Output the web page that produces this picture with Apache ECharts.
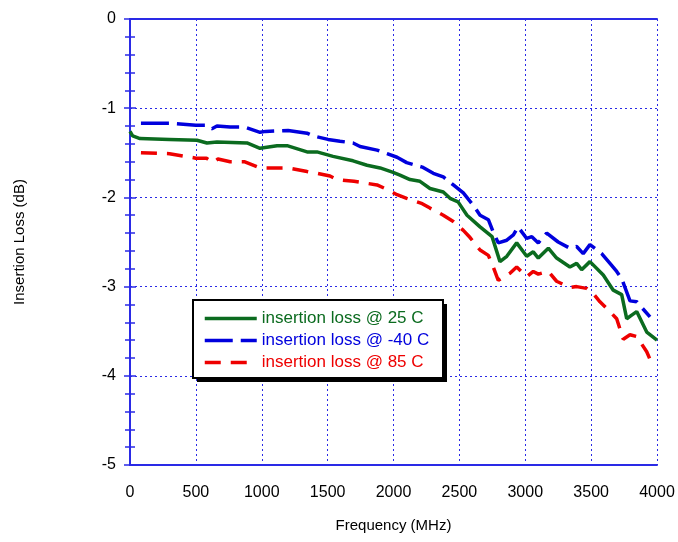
<!DOCTYPE html>
<html>
<head>
<meta charset="utf-8">
<script src="https://cdn.jsdelivr.net/npm/echarts@6/dist/echarts.min.js"></script>
<style>
    html, body { margin: 0; padding: 0; background: #ffffff; }
    #chart { width: 678px; height: 542px; }
</style>
</head>
<body>
<div id="chart"></div>
<script>
// insertion loss @ 25 C
const freq25 = [0, 20, 76, 300, 508, 584, 660, 888, 987, 1116, 1192, 1344, 1419, 1541, 1693, 1799, 1898, 1997, 2049, 2125, 2201, 2277, 2378, 2429, 2490, 2558, 2657, 2748, 2808, 2860, 2935, 3011, 3061, 3099, 3175, 3238, 3339, 3390, 3428, 3491, 3592, 3668, 3732, 3770, 3808, 3846, 3922, 4000];
const loss25 = [-1.26, -1.31, -1.34, -1.35, -1.36, -1.39, -1.38, -1.39, -1.45, -1.42, -1.42, -1.49, -1.49, -1.54, -1.59, -1.64, -1.67, -1.72, -1.75, -1.80, -1.82, -1.90, -1.94, -2.01, -2.05, -2.20, -2.33, -2.44, -2.72, -2.66, -2.51, -2.66, -2.61, -2.68, -2.57, -2.68, -2.78, -2.74, -2.81, -2.72, -2.87, -3.04, -3.09, -3.36, -3.32, -3.28, -3.51, -3.60];

// insertion loss @ -40 C
const freqM40 = [83, 300, 500, 580, 622, 660, 760, 867, 987, 1030, 1200, 1344, 1390, 1503, 1594, 1693, 1746, 1875, 1951, 2027, 2100, 2218, 2302, 2378, 2454, 2530, 2606, 2657, 2720, 2755, 2795, 2860, 2910, 2945, 3011, 3050, 3099, 3163, 3250, 3339, 3390, 3440, 3491, 3580, 3643, 3694, 3732, 3795, 3846, 3947];
const lossM40 = [-1.17, -1.17, -1.19, -1.19, -1.23, -1.20, -1.21, -1.21, -1.27, -1.26, -1.25, -1.28, -1.31, -1.35, -1.37, -1.39, -1.43, -1.47, -1.51, -1.55, -1.61, -1.66, -1.73, -1.77, -1.86, -1.95, -2.09, -2.20, -2.25, -2.38, -2.51, -2.48, -2.42, -2.33, -2.46, -2.44, -2.51, -2.40, -2.50, -2.57, -2.55, -2.63, -2.53, -2.63, -2.74, -2.83, -2.91, -3.16, -3.17, -3.34];

// insertion loss @ 85 C
const freq85 = [83, 300, 500, 580, 630, 668, 760, 867, 987, 1100, 1200, 1344, 1420, 1518, 1571, 1700, 1875, 1951, 2027, 2100, 2218, 2277, 2378, 2454, 2530, 2581, 2657, 2720, 2757, 2795, 2884, 2935, 3011, 3061, 3099, 3175, 3238, 3339, 3390, 3466, 3516, 3567, 3643, 3694, 3744, 3795, 3846, 3922, 3960];
const loss85 = [-1.50, -1.51, -1.56, -1.56, -1.61, -1.57, -1.60, -1.60, -1.67, -1.67, -1.67, -1.71, -1.73, -1.76, -1.80, -1.82, -1.86, -1.91, -1.97, -2.01, -2.07, -2.12, -2.20, -2.27, -2.37, -2.45, -2.59, -2.65, -2.78, -2.93, -2.85, -2.78, -2.89, -2.83, -2.86, -2.83, -2.94, -3.01, -3.00, -3.02, -3.08, -3.17, -3.28, -3.36, -3.59, -3.54, -3.56, -3.73, -3.86];

const seriesNames = ["insertion loss @ 25 C", "insertion loss @ -40 C", "insertion loss @ 85 C"];
const seriesColors = ["#0b6b1f", "#0000dd", "#ee0000"];

const FONT = "Liberation Sans, Arial, sans-serif";
const AXIS_BLUE = "#2a2ae6";

function pairs(xs, ys) {
    return xs.map((x, i) => [x, ys[i]]);
}

function makeSeries(name, data, color, dash) {
    return {
        name: name,
        type: "line",
        data: data,
        symbol: "none",
        xAxisIndex: 0,
        yAxisIndex: 0,
        z: 3,
        lineStyle: {
            color: color,
            width: 3.5,
            type: dash
        },
        itemStyle: {
            color: color
        }
    };
}

function yAxisBase() {
    return {
        type: "value",
        min: -5,
        max: 0,
        interval: 1,
        axisLine: { show: true, lineStyle: { color: AXIS_BLUE, width: 2 } },
        axisTick: { show: true, inside: true, length: 6, lineStyle: { color: AXIS_BLUE, width: 1.5 } },
        minorTick: { show: true, splitNumber: 5, length: 5, lineStyle: { color: AXIS_BLUE, width: 1.5 } }
    };
}

const chart = echarts.init(document.getElementById("chart"));

chart.setOption({
    animation: false,
    textStyle: { fontFamily: FONT },
    grid: {
        left: 130,
        right: 21,
        top: 19,
        bottom: 77
    },
    // legend frame with its drop shadow
    graphic: [
        {
            type: "rect",
            z: 10,
            shape: { x: 197, y: 304, width: 250, height: 78 },
            style: { fill: "#000000" }
        },
        {
            type: "rect",
            z: 11,
            shape: { x: 193, y: 300, width: 250, height: 78 },
            style: { fill: "#ffffff", stroke: "#000000", lineWidth: 2 }
        }
    ],
    legend: {
        orient: "vertical",
        left: 193,
        top: 300,
        z: 12,
        data: seriesNames.map((name, i) => ({
            name: name,
            textStyle: { color: seriesColors[i] }
        })),
        padding: [10, 16, 10, 10],
        itemWidth: 52,
        itemHeight: 14,
        itemGap: 5,
        itemStyle: { opacity: 0 },
        lineStyle: { width: 3.5 },
        textStyle: {
            fontSize: 17,
            fontFamily: FONT
        }
    },
    xAxis: [
        {
            type: "value",
            min: 0,
            max: 4000,
            interval: 500,
            name: "Frequency (MHz)",
            nameLocation: "middle",
            nameGap: 53,
            nameTextStyle: { fontSize: 15, color: "#000000", fontFamily: FONT },
            axisLine: { show: true, onZero: false, lineStyle: { color: AXIS_BLUE, width: 2 } },
            axisTick: { show: false },
            axisLabel: {
                color: "#000000",
                fontSize: 16,
                margin: 20,
                fontFamily: FONT,
                formatter: value => String(value)
            },
            splitLine: { show: true, lineStyle: { color: AXIS_BLUE, type: [2, 3], width: 1 } }
        },
        {
            type: "value",
            position: "top",
            min: 0,
            max: 4000,
            interval: 500,
            axisLine: { show: true, onZero: false, lineStyle: { color: AXIS_BLUE, width: 2 } },
            axisTick: { show: false },
            axisLabel: { show: false },
            splitLine: { show: false }
        }
    ],
    yAxis: [
        Object.assign(yAxisBase(), {
            position: "left",
            name: "Insertion Loss (dB)",
            nameLocation: "middle",
            nameGap: 103,
            nameRotate: 90,
            nameTextStyle: { fontSize: 15, color: "#000000", fontFamily: FONT },
            axisLabel: { color: "#000000", fontSize: 16, margin: 14, fontFamily: FONT },
            splitLine: { show: true, lineStyle: { color: AXIS_BLUE, type: [2, 3], width: 1 } }
        }),
        Object.assign(yAxisBase(), {
            position: "right",
            axisLabel: { show: false },
            splitLine: { show: false }
        })
    ],
    series: [
        makeSeries(seriesNames[0], pairs(freq25, loss25), seriesColors[0], "solid"),
        makeSeries(seriesNames[1], pairs(freqM40, lossM40), seriesColors[1], [28, 8]),
        makeSeries(seriesNames[2], pairs(freq85, loss85), seriesColors[2], [16, 10])
    ]
});
</script>
</body>
</html>
